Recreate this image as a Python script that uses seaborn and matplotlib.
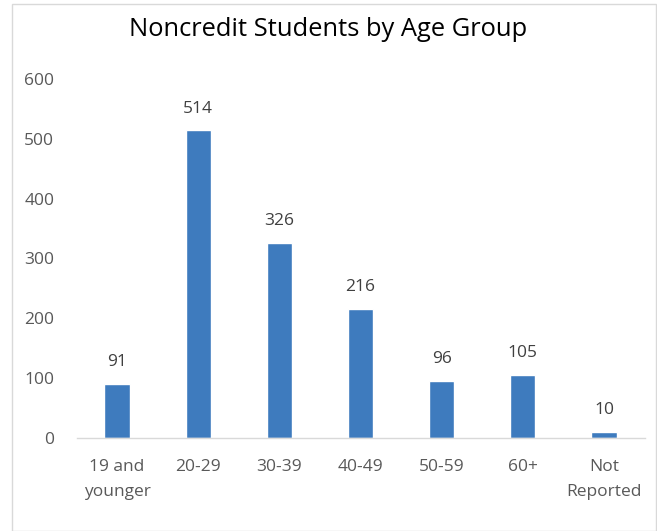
import matplotlib
matplotlib.use("Agg")
import matplotlib.pyplot as plt
import seaborn as sns
import pandas as pd
from matplotlib.patches import Rectangle

categories = ["19 and\nyounger", "20-29", "30-39", "40-49", "50-59", "60+", "Not\nReported"]
values = [91, 514, 326, 216, 96, 105, 10]
yticks = [0, 100, 200, 300, 400, 500, 600]
title = "Noncredit Students by Age Group"

sns.set_theme(style="white")
plt.rcParams["font.family"] = ["Open Sans", "DejaVu Sans"]

df = pd.DataFrame({"cat": categories, "val": values})

fig = plt.figure(figsize=(6.57, 5.31), dpi=100)
ax = fig.add_axes([76.5/657, 1-438/531, 568/657, 359/531])
sns.barplot(data=df, x="cat", y="val", color="#3E7BBE", width=0.31, ax=ax, saturation=1)

ax.set_ylim(0, 600)
ax.set_xlim(-0.5, len(categories) - 0.5)
ax.set_yticks(yticks)
ax.set_yticklabels([str(t) for t in yticks], fontsize=12.5, color="#595959")
ax.set_xticklabels(categories, fontsize=12.5, color="#595959", linespacing=1.75)
ax.set_xlabel("")
ax.set_ylabel("")
for s in ["top", "right", "left"]:
    ax.spines[s].set_visible(False)
ax.spines["bottom"].set_color("#D9D9D9")
ax.spines["bottom"].set_linewidth(1)
ax.tick_params(axis="both", length=0)
ax.tick_params(axis="x", pad=15)
ax.tick_params(axis="y", pad=16)

for i, v in enumerate(values):
    ax.annotate(str(v), (i, v), xytext=(0, 10), textcoords="offset points",
                ha="center", va="bottom", fontsize=12.5, color="#404040")

fig.text(0.5, 1 - 29/531, title, ha="center", va="center", fontsize=18.4, color="#000000")

fig.patches.append(Rectangle((12/657, 0), 644/657, 1 - 4/531, transform=fig.transFigure,
                             fill=False, edgecolor="#D9D9D9", linewidth=1))

fig.savefig("out.png", dpi=100)
